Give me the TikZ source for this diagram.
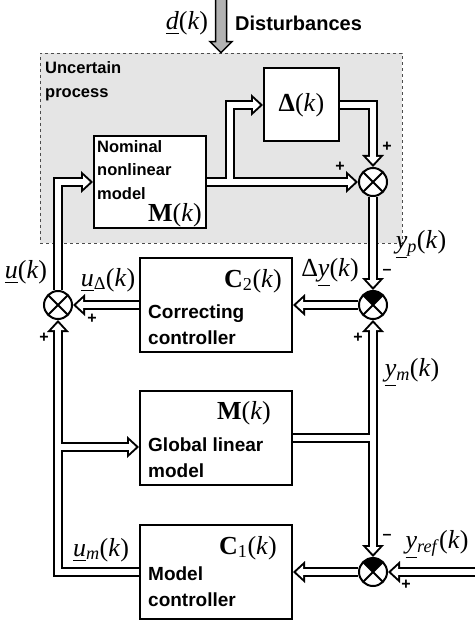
\documentclass[tikz,border=0pt]{standalone}
\usepackage{amsmath}
\usepackage[no-math]{fontspec}
\setmainfont{Liberation Sans}
\newfontfamily\mfont{Liberation Serif}
\usepackage{xcolor}
\usepackage{tikz}
\usetikzlibrary{arrows.meta,positioning,calc}

% cross and filled wedge inside a summing junction
\newcommand{\sumcross}{%
  \draw[black, line width=2pt] (path picture bounding box.north west) -- (path picture bounding box.south east)
    (path picture bounding box.north east) -- (path picture bounding box.south west);}
\newcommand{\sumwedge}{%
  \fill[black] (path picture bounding box.center) -- (path picture bounding box.north west)
    -- (path picture bounding box.north east) -- cycle;}

% all double-line connectors, drawn twice (black, then white)
\newcommand{\pipework}{%
  \draw[pipe] (lsum.north) |- (nom.west);
  \draw[pipe] (nom.east) -- (sum1.west);
  \draw[pipe] (jn) |- (delta.west);
  \draw[pipe] (delta.east) -| (sum1.north);
  \draw[pipe] (sum1.south) -- (sum2.north);
  \draw[pipe] (sum2.west) -- (c2.east);
  \draw[pipe] (c2.west) -- (lsum.east);
  \draw[pipe] (c1.west) -| (lsum.south);
  \draw[pipe] (jl) -- ([shift={(0,9)}]glm.west);
  \draw[pipe] (glm.east) -| (sum2.south);
  \draw[pipe] (jr) -- (sum3.north);
  \draw[pipe] (sum3.west) -- (c1.east);
  \draw[pipe] (yin) -- (sum3.east);
}

\begin{document}
\begin{tikzpicture}[
    x = 1pt, y = -1pt,
    block/.style={
        rectangle, % shape
        draw, line width = 2pt, %border
        fill = white, %the filling
        inner sep = 0pt
      },
    sumj/.style={
        circle, draw, line width = 2pt,
        fill = white,
        minimum size = 28pt, inner sep = 0pt,
        path picture = {\sumcross}
      },
    sumneg/.style={sumj, path picture = {\sumwedge\sumcross}},
    txt/.style={font=\fontsize{19}{26}\selectfont\bfseries, align=left, inner sep=0pt},
    smalltxt/.style={font=\fontsize{16.5}{23.5}\selectfont\bfseries, align=left, inner sep=0pt},
    mth/.style={font=\mfont\fontsize{26}{30}\selectfont, inner sep=0pt},
    sgn/.style={font=\fontsize{16}{18}\selectfont\bfseries, inner sep=0pt}
  ]
  \useasboundingbox (0,0) rectangle (474,620);

  % uncertain process frame
  \node [draw = black!70, dashed, line width = 0.8pt, fill = gray!20,
         minimum width = 362pt, minimum height = 190pt] (proc) at (221,148) {};
  \node [smalltxt, anchor = west] (proct) at (45,81) {Uncertain\\process};

  % blocks
  \node [block, minimum width = 112pt, minimum height = 92pt] (nom) at (150,182) {};
  \node [block, minimum width = 75pt, minimum height = 73pt, mth] (delta) at (301.5,105) {\textbf{Δ}(\textit{k})};
  \node [block, minimum width = 152pt, minimum height = 94pt] (c2) at (216,305) {};
  \node [block, minimum width = 152pt, minimum height = 94pt] (glm) at (216,438) {};
  \node [block, minimum width = 152pt, minimum height = 94pt] (c1) at (216,572) {};

  \node [smalltxt, anchor = west] (nomt) at ([shift={(4,-12)}]nom.west) {Nominal\\nonlinear\\model};
  \node [mth] (nomm) at ([shift={(-32,-14)}]nom.south east) {\textbf{M}(\textit{k})};
  \node [txt, anchor = west] (c2t) at ([shift={(9,20)}]c2.west) {Correcting\\controller};
  \node [mth] (c2m) at ([shift={(-40,24)}]c2.north east) {\textbf{C}\textsubscript{2}(\textit{k})};
  \node [txt, anchor = west] (glmt) at ([shift={(9,20)}]glm.west) {Global linear\\model};
  \node [mth] (glmm) at ([shift={(-49,23)}]glm.north east) {\textbf{M}(\textit{k})};
  \node [txt, anchor = west] (c1t) at ([shift={(9,15)}]c1.west) {Model\\controller};
  \node [mth] (c1m) at ([shift={(-45,24)}]c1.north east) {\textbf{C}\textsubscript{1}(\textit{k})};

  % summing junctions
  \node [sumj] (sum1) at (373,182) {};
  \node [sumneg] (sum2) at (373,305) {};
  \node [sumj] (lsum) at (58,305) {};
  \node [sumneg] (sum3) at (373,572) {};

  \coordinate (jn) at (230,182);
  \coordinate (jl) at (58,447);
  \coordinate (jr) at (373,438);
  \coordinate (yin) at (478,572);

  % disturbance arrow
  \filldraw [fill = gray!60, line width = 1.5pt, line join = miter]
    ([shift={(-5.5,-60)}]proc.north) -- ([shift={(-5.5,-11)}]proc.north)
    -- ([shift={(-11,-11)}]proc.north) -- (proc.north) -- ([shift={(11,-11)}]proc.north)
    -- ([shift={(5.5,-11)}]proc.north) -- ([shift={(5.5,-60)}]proc.north);

  % connectors
  \begin{scope}[pipe/.style={line width = 10pt, -{Triangle[length=12pt,width=22pt,line width=0pt]}}]
    \pipework
  \end{scope}
  \begin{scope}[pipe/.style={line width = 6pt, white, shorten >= 3pt, -{Triangle[length=7pt,width=13pt,line width=0pt]}}]
    \pipework
  \end{scope}

  % signal labels
  \node [mth] (ld) at (187,23) {\underline{\textit{d}}(\textit{k})};
  \node [txt, anchor = west, font=\fontsize{20}{24}\selectfont\bfseries] (ldist) at (235,23) {Disturbances};
  \node [mth] (lu) at (26,272) {\underline{\textit{u}}(\textit{k})};
  \node [mth] (lud) at (108,280) {\underline{\textit{u}}\textsubscript{Δ}(\textit{k})};
  \node [mth] (lum) at (101,550) {\underline{\textit{u}}\textsubscript{\textit{m}}(\textit{k})};
  \node [mth] (ldy) at (330,273) {Δ\underline{\textit{y}}(\textit{k})};
  \node [mth] (lyp) at (421,245) {\underline{\textit{y}}\textsubscript{\textit{p}}(\textit{k})};
  \node [mth] (lym) at (412,373) {\underline{\textit{y}}\textsubscript{\textit{m}}(\textit{k})};
  \node [mth] (lyr) at (437,545) {\underline{\textit{y}}\textsubscript{\textit{ref}}(\textit{k})};

  % signs
  \node [sgn] at ([shift={(14,-35)}]sum1) {+};
  \node [sgn] at ([shift={(-33,-15)}]sum1) {+};
  \node [sgn] at ([shift={(14,-33)}]sum2) {--};
  \node [sgn] at ([shift={(-15,33)}]sum2) {+};
  \node [sgn] at ([shift={(34,14)}]lsum) {+};
  \node [sgn] at ([shift={(-14,33)}]lsum) {+};
  \node [sgn] at ([shift={(14,-35)}]sum3) {--};
  \node [sgn] at ([shift={(33,13)}]sum3) {+};
\end{tikzpicture}
\end{document}
